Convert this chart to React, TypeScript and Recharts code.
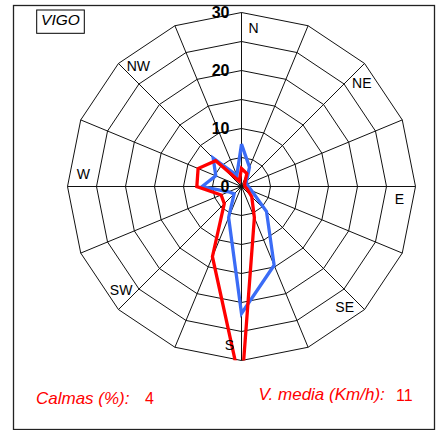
import { RadarChart, Radar, PolarGrid, PolarAngleAxis, PolarRadiusAxis } from "recharts";

const directions = ["N", "NNE", "NE", "ENE", "E", "ESE", "SE", "SSE", "S", "SSW", "SW", "WSW", "W", "WNW", "NW", "NNW"];
const labelledDirections = ["N", "NE", "E", "SE", "S", "SW", "W", "NW"];
const redValues = [3.1, 2.4, 0.8, 0.6, 0.6, 1.0, 2.5, 5.8, 35, 13.1, 4.2, 3.8, 7.7, 8.1, 6.3, 1.0];
const blueValues = [7.3, 3.6, 1.2, 1.0, 1.2, 1.9, 6.1, 14.7, 21.9, 5.8, 1.8, 2.4, 6.8, 4.8, 6.9, 2.1];
const radiusTicks = [0, 5, 10, 15, 20, 25, 30];
const stationName = "VIGO";
const calmas = 4;
const velocidadMedia = 11;

const W = 436;
const H = 430;
const CX = 241.5;
const CY = 186.5;
const OUTER = 174;
const FONT = "'Liberation Sans', Arial, sans-serif";
const RED = "#ff0000";
const BLUE = "#3b6cf6";

const data = directions.map((dir, i) => ({
  dir,
  rojo: redValues[i],
  azul: blueValues[i],
}));

const DirTick = (props: any) => {
  const { payload, index } = props;
  const label = payload?.value;
  if (!labelledDirections.includes(label)) return <g />;
  const coord = typeof payload.coordinate === "number" ? payload.coordinate : 90 - index * 22.5;
  const a = ((coord - 4.4) * Math.PI) / 180;
  const r = OUTER - 15.5;
  return (
    <text
      x={CX + r * Math.cos(a)}
      y={CY - r * Math.sin(a)}
      textAnchor="middle"
      dominantBaseline="central"
      fontFamily={FONT}
      fontSize={14}
      fill="#000"
    >
      {label}
    </text>
  );
};

const RingTick = (props: any) => {
  const { x, y, payload } = props;
  if (payload.value % 10 !== 0) return <g />;
  return (
    <text
      x={x - 12}
      y={y}
      textAnchor="end"
      dominantBaseline="central"
      fontFamily={FONT}
      fontWeight="bold"
      fontSize={16}
      fill="#000"
    >
      {payload.value}
    </text>
  );
};

// red south value runs past 30, the original cuts it at the outer ring
const clippedLine = (props: any) => {
  const pts = props.points || [];
  const d = pts.map((p: any, i: number) => `${i ? "L" : "M"}${p.x},${p.y}`).join(" ") + " Z";
  const id = `clip-${props.dataKey}`;
  return (
    <g>
      <defs>
        <clipPath id={id}>
          <circle cx={CX} cy={CY} r={OUTER} />
        </clipPath>
      </defs>
      <path d={d} fill="none" stroke={props.stroke} strokeWidth={3.3} clipPath={`url(#${id})`} />
    </g>
  );
};

export default function App() {
  return (
    <div style={{ position: "absolute", left: 0, top: 0, width: W, height: H, background: "#fff" }}>
      <RadarChart width={W} height={H} data={data} cx={CX} cy={CY} outerRadius={OUTER} margin={{ top: 0, right: 0, bottom: 0, left: 0 }}>
        <PolarGrid gridType="polygon" stroke="#111" strokeWidth={1} strokeOpacity={1} />
        <PolarAngleAxis dataKey="dir" tick={DirTick} tickLine={false} axisLine={false} />
        <Radar dataKey="azul" stroke={BLUE} fill="none" fillOpacity={0} dot={false} shape={clippedLine} isAnimationActive={false} />
        <Radar dataKey="rojo" stroke={RED} fill="none" fillOpacity={0} dot={false} shape={clippedLine} isAnimationActive={false} />
        <PolarRadiusAxis
          angle={90}
          domain={[0, 30]}
          ticks={radiusTicks}
          tickCount={7}
          allowDataOverflow
          axisLine={false}
          tickLine={false}
          tick={RingTick}
        />
      </RadarChart>
      <svg width={W} height={H} style={{ position: "absolute", left: 0, top: 0, pointerEvents: "none" }}>
        <rect x={13.5} y={5.5} width={421} height={424} fill="none" stroke="#222" strokeWidth={1.3} />
        <rect x={36.7} y={10} width={47.6} height={23.3} fill="none" stroke="#000" strokeWidth={1} />
        <text x={60.5} y={25.3} textAnchor="middle" fontFamily={FONT} fontStyle="italic" fontSize={15.5}>
          {stationName}
        </text>
        <text x={36} y={404} fontFamily={FONT} fontStyle="italic" fontSize={17} fill={RED}>
          Calmas (%):
        </text>
        <text x={145} y={404} fontFamily={FONT} fontSize={16} fill={RED}>
          {calmas}
        </text>
        <text x={258.5} y={400} fontFamily={FONT} fontStyle="italic" fontSize={17} fill={RED}>
          V. media (Km/h):
        </text>
        <text x={396} y={401} fontFamily={FONT} fontSize={16} fill={RED}>
          {velocidadMedia}
        </text>
      </svg>
    </div>
  );
}
